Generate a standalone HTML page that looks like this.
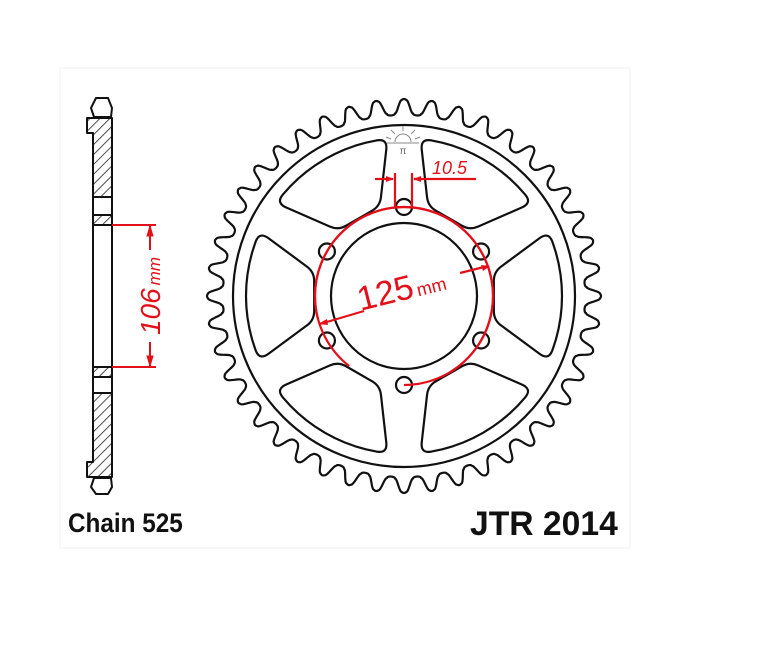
<!DOCTYPE html>
<html><head><meta charset="utf-8">
<style>
html,body{margin:0;padding:0;background:#fff;}
svg{display:block;}
</style></head>
<body>
<svg id="s" width="770" height="650" viewBox="0 0 770 650" xmlns="http://www.w3.org/2000/svg">
<defs>
<pattern id="h" patternUnits="userSpaceOnUse" width="7" height="7" patternTransform="rotate(45)">
<rect width="7" height="7" fill="#fff"/>
<line x1="0" y1="0" x2="0" y2="7" stroke="#222" stroke-width="1.6"/>
</pattern>
</defs>
<rect x="60" y="68" width="570" height="480" fill="none" stroke="#f2f2f2" stroke-width="1"/>
<!-- side view -->
<g stroke="#111" stroke-width="2" fill="none" stroke-linejoin="round">
<path d="M94 117 L91 108 L96 98 L108 98 L112 108 L111 117 Z"/>
<path d="M94 478 L91 487 L96 494 L108 494 L112 487 L111 478 Z"/>
<path d="M87 118 L112 118 L112 197 L93 197 L93 133 L87 133 Z" fill="url(#h)"/>
<rect x="93" y="197" width="19" height="18"/>
<rect x="93" y="215" width="19" height="10" fill="url(#h)"/>
<rect x="93" y="225" width="19" height="142"/>
<rect x="93" y="367" width="19" height="10" fill="url(#h)"/>
<rect x="93" y="377" width="19" height="16"/>
<path d="M93 393 L112 393 L112 477 L87 477 L87 462 L93 462 Z" fill="url(#h)"/>
</g>
<g stroke="#e3101a" stroke-width="2" fill="#e3101a">
<line x1="112" y1="225" x2="156" y2="225"/>
<line x1="112" y1="367" x2="156" y2="367"/>
<line x1="150" y1="226" x2="150" y2="250"/>
<line x1="150" y1="342" x2="150" y2="366"/>
<path d="M150 226 L147 236 L153 236 Z" stroke-width="1"/>
<path d="M150 366 L147 356 L153 356 Z" stroke-width="1"/>
</g>
<text transform="translate(160,296) rotate(-90)" text-anchor="middle" font-family="Liberation Sans, sans-serif" font-style="italic" fill="#e3101a"><tspan font-size="28">106</tspan><tspan font-size="17" dx="3">mm</tspan></text>

<g id="sp" fill="none" stroke="#111" stroke-width="2.2"></g>

<!-- logo -->
<g stroke="#888" stroke-width="1" fill="none">
<path d="M395 142 A8 8 0 0 1 411 142"/>
<line x1="387" y1="143" x2="419" y2="143"/>
<line x1="403" y1="131" x2="403" y2="126"/><line x1="395" y1="134" x2="391" y2="130"/><line x1="411" y1="134" x2="415" y2="130"/>
<line x1="391" y1="139" x2="386" y2="137"/><line x1="415" y1="139" x2="420" y2="137"/>
<text x="403" y="154" font-size="10" text-anchor="middle" fill="#666" stroke="none" font-family="Liberation Sans, sans-serif">π</text>
</g>

<!-- red dimensions -->
<g stroke="#e3101a" stroke-width="2.2" fill="none">
<line x1="375" y1="179" x2="393" y2="179"/>
<line x1="414" y1="179" x2="476" y2="179"/>
<line x1="395" y1="173" x2="395" y2="208"/>
<line x1="412" y1="173" x2="412" y2="208"/>
<path id="arc1"/>
<path id="arc2"/>
<line x1="320" y1="324" x2="364" y2="311"/>
<line x1="460" y1="273" x2="488" y2="266"/>
</g>
<g fill="#e3101a">
<path d="M394 179 L386 176 L386 182 Z"/>
<path d="M413 179 L421 176 L421 182 Z"/>
<path d="M318 324 L327 319 L328 325 Z"/>
<path d="M490 266 L481 265 L483 271 Z"/>
</g>
<text x="432" y="174" font-family="Liberation Sans, sans-serif" font-style="italic" font-size="18" fill="#e3101a">10.5</text>
<text transform="translate(404,300) rotate(-14)" text-anchor="middle" font-family="Liberation Sans, sans-serif" fill="#e3101a"><tspan font-size="34">125</tspan><tspan font-size="18" dx="3">mm</tspan></text>

<text transform="translate(68,532) scale(0.9,1)" font-family="Liberation Sans, sans-serif" font-weight="bold" font-size="27" fill="#111">Chain 525</text>
<text transform="translate(470,535) scale(0.99,1)" font-family="Liberation Sans, sans-serif" font-weight="bold" font-size="34" fill="#111">JTR 2014</text>
</svg>
<script>
(function(){
var cx=404,cy=296,N=44,Rt=197,Rr=181;
function P(a,r){return [cx+r*Math.sin(a),cy-r*Math.cos(a)];}
function f(x){return x.toFixed(2);}
var g=document.getElementById('sp'),ns='http://www.w3.org/2000/svg';
function add(tag,at){var e=document.createElementNS(ns,tag);for(var k in at)e.setAttribute(k,at[k]);g.appendChild(e);return e;}
var d='',M=2600;
for(var i=0;i<=M;i++){
 var a=i/M*2*Math.PI;var ph=(a/(2*Math.PI))*N;ph=ph-Math.round(ph);var u=Math.abs(ph);
 var t;
 if(u<0.08){var q=u/0.08;t=1-0.06*q*q;}
 else if(u>0.34){var q=(0.5-u)/0.16;t=0.12*(1-Math.sqrt(Math.max(0,1-q*q)));}
 else {var s=(u-0.08)/0.26;t=0.94-(s*s*(3-2*s))*0.82;}
 var r=Rr+(Rt-Rr)*t;
 var p=P(a,r);d+=(i?'L':'M')+f(p[0])+' '+f(p[1]);
}
add('path',{d:d+'Z'});
add('circle',{cx:cx,cy:cy,r:171});
add('circle',{cx:cx,cy:cy,r:73});
var D=Math.PI/180;
for(var k=0;k<6;k++){var p=P(k*60*D,89);add('circle',{cx:f(p[0]),cy:f(p[1]),r:8});}
for(var k=0;k<6;k++){
 var c=(30+60*k)*D,pts=[];
 pts.push(P(c-15*D,93));
 for(var j=0;j<=12;j++){var a=c-24*D+j*(48/12)*D;pts.push(P(a,158));}
 pts.push(P(c+15*D,93));
 var n=pts.length,out='';
 for(var i=0;i<n;i++){
  var p=pts[i],a=pts[(i+n-1)%n],b=pts[(i+1)%n];
  var rr=(i==0||i==n-1)?9:((i==1||i==n-2)?11:0);
  if(rr==0){out+=(i?'L':'M')+f(p[0])+' '+f(p[1]);continue;}
  var fa=function(q,m){var dx=q[0]-p[0],dy=q[1]-p[1],L=Math.hypot(dx,dy);m=Math.min(m,L*0.9);return [p[0]+dx/L*m,p[1]+dy/L*m];};
  var s1=fa(a,rr),s2=fa(b,rr);
  out+=(i?'L':'M')+f(s1[0])+' '+f(s1[1])+'Q'+f(p[0])+' '+f(p[1])+' '+f(s2[0])+' '+f(s2[1]);
 }
 add('path',{d:out+'Z','stroke-linejoin':'round'});
}
function arc(a1,a2,r){var p1=P(a1*D,r),p2=P(a2*D,r);var large=((a2-a1+360)%360)>180?1:0;return 'M'+f(p1[0])+' '+f(p1[1])+'A'+r+' '+r+' 0 '+large+' 1 '+f(p2[0])+' '+f(p2[1]);}
document.getElementById('arc1').setAttribute('d',arc(255,148,89));
document.getElementById('arc2').setAttribute('d',arc(218,180,89));
})();
</script>
</body></html>
